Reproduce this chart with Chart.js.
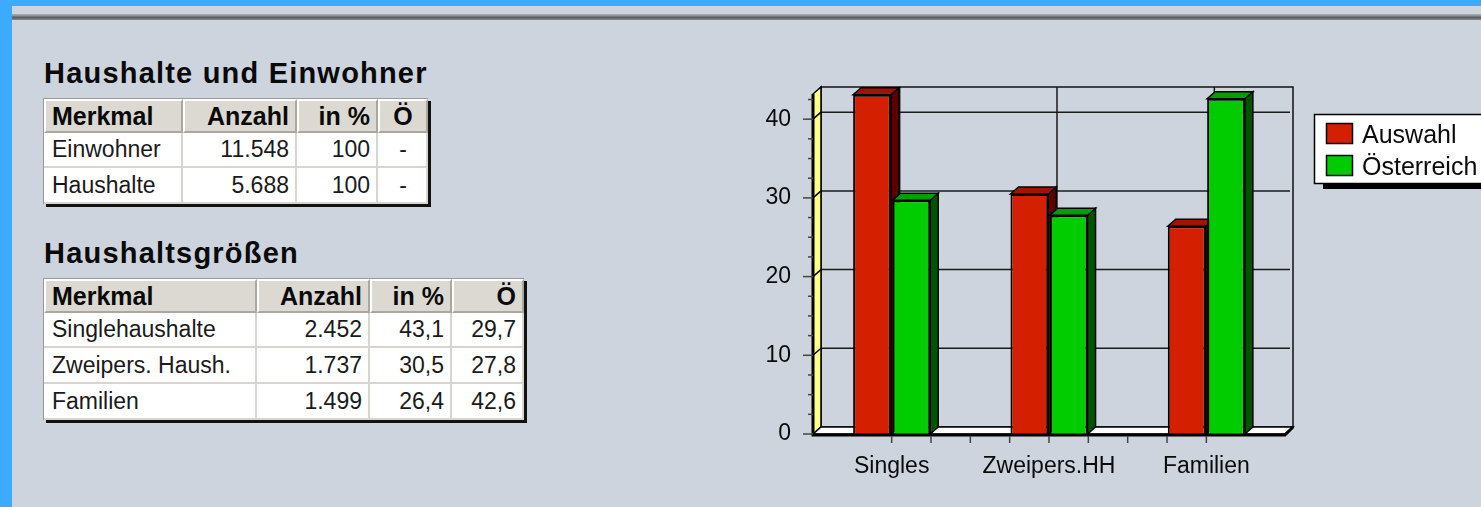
<!DOCTYPE html>
<html>
<head>
<meta charset="utf-8">
<script src="https://cdn.jsdelivr.net/npm/chart.js@4"></script>
<style>
  html, body { margin: 0; padding: 0; }
  body { width: 1481px; height: 507px; background: #3eaaff; position: relative; overflow: hidden; font-family: "Liberation Sans", Arial, sans-serif; }
  #panel { position: absolute; left: 12px; top: 6px; right: 0; bottom: 0; background: #cdd4de; }
  #sep { position: absolute; left: 12px; right: 0; top: 14px; height: 6px;
         background: linear-gradient(#aeb2b6 0, #8a8e92 33%, #5e6266 50%, #5e6266 67%, #8c9094 100%); }
  .title { position: absolute; left: 44px; font-weight: bold; font-size: 29px; line-height: 28px; letter-spacing: 1.2px; color: #0a0a0a; }
  table.tbl { position: absolute; left: 43px; border-collapse: separate; border-spacing: 0; table-layout: fixed;
              border-left: 1px solid #9a9a9a; border-top: 1px solid #9a9a9a; box-shadow: 3px 3px 0 #111; }
  .tbl th { background: #dcd9d2; font-weight: bold; font-size: 25px; color: #0a0a0a; padding: 0 6px;
            border-top: 2px solid #fff; border-left: 2px solid #fff; border-right: 2px solid #aaa79f; border-bottom: 2px solid #aaa79f; white-space: nowrap; overflow: hidden; }
  .tbl td { background: #fff; font-size: 23px; color: #1a1a1a; padding: 0 6px 0 8px;
            border-right: 2px solid #d8d5ce; border-bottom: 2px solid #d8d5ce; white-space: nowrap; overflow: hidden; }
  #chartBox { position: absolute; left: 740px; top: 60px; width: 741px; height: 440px; }
</style>
</head>
<body>
<div id="panel"></div>
<div id="sep"></div>
<div class="title" style="top:59px">Haushalte und Einwohner</div>
<table class="tbl" id="t1" style="top:98px"></table>
<div class="title" style="top:239px">Haushaltsgrößen</div>
<table class="tbl" id="t2" style="top:278px"></table>
<div id="chartBox"><canvas id="chart" width="741" height="440"></canvas></div>
<script>
// chart data
var categories = ['Singles', 'Zweipers.HH', 'Familien'];
var seriesNames = ['Auswahl', 'Österreich'];
var auswahlValues = [43.1, 30.5, 26.4];
var oesterreichValues = [29.7, 27.8, 42.6];
var yTicks = [0, 10, 20, 30, 40];

// table data
var header = ['Merkmal', 'Anzahl', 'in %', 'Ö'];
var table1Names = ['Einwohner', 'Haushalte'];
var table1Counts = ['11.548', '5.688'];
var table1Pct = ['100', '100'];
var table1Avg = ['-', '-'];
var table2Names = ['Singlehaushalte', 'Zweipers. Haush.', 'Familien'];
var table2Counts = ['2.452', '1.737', '1.499'];

function fmt(v) { return v.toFixed(1).replace('.', ','); }

function buildTable(id, widths, heights, headAlign, cols) {
  var t = document.getElementById(id);
  var total = widths.reduce(function (a, b) { return a + b; }, 0);
  t.style.width = total + 'px';
  var html = '<colgroup>' + widths.map(function (w) { return '<col style="width:' + w + 'px">'; }).join('') + '</colgroup>';
  html += '<tr style="height:' + heights[0] + 'px">';
  header.forEach(function (h, i) { html += '<th style="text-align:' + headAlign[i] + '">' + h + '</th>'; });
  html += '</tr>';
  for (var r = 0; r < cols[0].length; r++) {
    html += '<tr style="height:' + heights[r + 1] + 'px">';
    for (var c = 0; c < cols.length; c++) {
      var align = c === 0 ? 'left' : (cols[c][r] === '-' ? 'center' : 'right');
      html += '<td style="text-align:' + align + '">' + cols[c][r] + '</td>';
    }
    html += '</tr>';
  }
  t.innerHTML = html;
}

buildTable('t1', [139, 114, 81, 50], [34, 35, 36], ['left', 'right', 'right', 'center'],
  [table1Names, table1Counts, table1Pct, table1Avg]);
buildTable('t2', [213, 113, 82, 72], [34, 35, 36, 36], ['left', 'right', 'right', 'right'],
  [table2Names, table2Counts, auswahlValues.map(fmt), oesterreichValues.map(fmt)]);

// 3d look: walls, floor, bar tops and sides
var DX = 8, DY = -7;

function poly(ctx, pts, fill, lw) {
  ctx.beginPath();
  ctx.moveTo(pts[0][0], pts[0][1]);
  for (var i = 1; i < pts.length; i++) ctx.lineTo(pts[i][0], pts[i][1]);
  ctx.closePath();
  if (fill) { ctx.fillStyle = fill; ctx.fill(); }
  ctx.lineWidth = lw || 1.5;
  ctx.strokeStyle = '#000';
  ctx.stroke();
}

var box3d = {
  id: 'box3d',
  beforeDatasetsDraw: function (chart) {
    var ctx = chart.ctx, a = chart.chartArea, x = chart.scales.x, y = chart.scales.y;
    ctx.save();
    // back wall frame
    ctx.lineWidth = 1.5;
    ctx.strokeStyle = '#111';
    ctx.strokeRect(a.left + DX, a.top + DY, a.right - a.left, a.bottom - a.top);
    // back wall grid
    ctx.strokeStyle = '#1a1a1a';
    ctx.lineWidth = 1.5;
    yTicks.forEach(function (v) {
      if (v === 0) return;
      var py = y.getPixelForValue(v) + DY;
      ctx.beginPath(); ctx.moveTo(a.left + DX, py); ctx.lineTo(a.right + DX - 3, py); ctx.stroke();
    });
    categories.forEach(function (c, i) {
      var px = x.getPixelForValue(i) + DX;
      ctx.beginPath(); ctx.moveTo(px, a.top + DY); ctx.lineTo(px, a.bottom + DY); ctx.stroke();
    });
    // left wall
    poly(ctx, [[a.left, a.top], [a.left + DX, a.top + DY], [a.left + DX, a.bottom + DY], [a.left, a.bottom]], '#ffff8c', 1.5);
    yTicks.forEach(function (v) {
      if (v === 0) return;
      var py = y.getPixelForValue(v);
      ctx.beginPath(); ctx.moveTo(a.left, py); ctx.lineTo(a.left + DX, py + DY); ctx.stroke();
    });
    // floor
    poly(ctx, [[a.left, a.bottom], [a.right, a.bottom], [a.right + DX, a.bottom + DY], [a.left + DX, a.bottom + DY]], '#ffffff', 1.5);
    // bar sides and tops, left to right
    var metas = chart.data.datasets.map(function (d, i) { return chart.getDatasetMeta(i); });
    for (var j = 0; j < categories.length; j++) {
      for (var i = 0; i < metas.length; i++) {
        var ds = chart.data.datasets[i];
        var p = metas[i].data[j].getProps(['x', 'y', 'base', 'width'], true);
        var l = p.x - p.width / 2, r = p.x + p.width / 2;
        poly(ctx, [[r, p.y], [r + DX, p.y + DY], [r + DX, p.base + DY], [r, p.base]], ds.sideColor, 1.5);
        poly(ctx, [[l, p.y], [r, p.y], [r + DX, p.y + DY], [l + DX, p.y + DY]], ds.topColor, 1.5);
      }
    }
    ctx.restore();
  },
  afterDatasetsDraw: function (chart) {
    var ctx = chart.ctx, a = chart.chartArea, x = chart.scales.x, y = chart.scales.y;
    ctx.save();
    ctx.strokeStyle = '#000';
    // front axis lines
    ctx.lineWidth = 3;
    ctx.beginPath(); ctx.moveTo(a.left, a.top); ctx.lineTo(a.left, a.bottom + 1); ctx.lineTo(a.right, a.bottom + 1);
    ctx.lineTo(a.right + DX, a.bottom + DY); ctx.stroke();
    // y tick marks, minor every 2.5
    ctx.strokeStyle = '#444';
    ctx.lineWidth = 1.5;
    for (var v = 0; v <= y.max; v += 2.5) {
      var py = y.getPixelForValue(v);
      var len = v % 10 === 0 ? 10 : 5;
      ctx.beginPath(); ctx.moveTo(a.left - len, py); ctx.lineTo(a.left, py); ctx.stroke();
    }
    // x tick marks, quarter categories
    var step = (x.getPixelForValue(1) - x.getPixelForValue(0)) / 4;
    for (var k = 0; k <= (categories.length - 1) * 4; k++) {
      var px = x.getPixelForValue(0) + k * step;
      ctx.beginPath(); ctx.moveTo(px, a.bottom + 2); ctx.lineTo(px, a.bottom + 9); ctx.stroke();
    }
    ctx.restore();
  },
  afterDraw: function (chart) {
    var ctx = chart.ctx;
    var datasets = chart.data.datasets;
    ctx.save();
    // legend box with shadow
    ctx.fillStyle = '#000';
    ctx.fillRect(583, 123, 170, 6);
    ctx.fillStyle = '#fff';
    ctx.fillRect(574, 54, 180, 69);
    ctx.strokeStyle = '#000';
    ctx.lineWidth = 1.5;
    ctx.strokeRect(574.5, 54.5, 180, 69);
    ctx.font = '25px "Liberation Sans", Arial';
    ctx.textBaseline = 'alphabetic';
    datasets.forEach(function (d, i) {
      var top = 63 + i * 32;
      ctx.fillStyle = d.backgroundColor;
      ctx.fillRect(586, top, 27, 21);
      ctx.strokeRect(586.5, top + 0.5, 26, 20);
      ctx.fillStyle = '#0a0a0a';
      ctx.fillText(d.label, 622, top + 20);
    });
    ctx.restore();
  }
};

new Chart(document.getElementById('chart'), {
  type: 'bar',
  data: {
    labels: categories,
    datasets: [
      { label: seriesNames[0], data: auswahlValues, backgroundColor: '#d42000', topColor: '#a01400', sideColor: '#5c0000',
        borderColor: '#000', borderWidth: 2, categoryPercentage: 0.5, barPercentage: 0.96 },
      { label: seriesNames[1], data: oesterreichValues, backgroundColor: '#00cc00', topColor: '#00a000', sideColor: '#005600',
        borderColor: '#000', borderWidth: 2, categoryPercentage: 0.5, barPercentage: 0.96 }
    ]
  },
  options: {
    responsive: false,
    animation: false,
    devicePixelRatio: 1,
    layout: { padding: { top: 34, right: 196, left: 0, bottom: 0 } },
    plugins: { legend: { display: false }, tooltip: { enabled: false } },
    scales: {
      x: {
        grid: { display: false },
        border: { display: false },
        ticks: { color: '#0a0a0a', font: { family: '"Liberation Sans", Arial', size: 23 }, padding: 11, maxRotation: 0 },
        afterFit: function (s) { s.height = 66; }
      },
      y: {
        min: 0, max: 43.2,
        grid: { display: false },
        border: { display: false },
        ticks: { stepSize: 10, includeBounds: false, color: '#0a0a0a', font: { family: '"Liberation Sans", Arial', size: 23 }, padding: 14 },
        afterFit: function (s) { s.width = 73; }
      }
    }
  },
  plugins: [box3d]
});
</script>
</body>
</html>
